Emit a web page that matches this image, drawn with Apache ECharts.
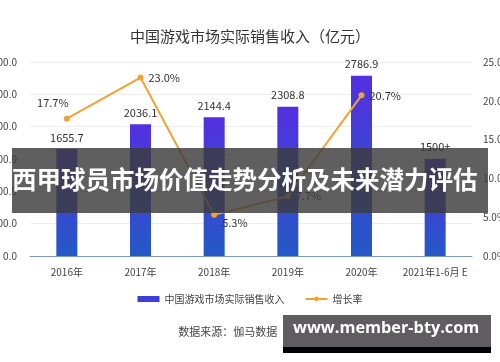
<!DOCTYPE html>
<html><head><meta charset="utf-8">
<script src="https://cdn.jsdelivr.net/npm/echarts@6/dist/echarts.min.js"></script>
<style>html,body{margin:0;padding:0;background:#fff}#c{width:500px;height:362px}</style>
</head><body><div id="c"></div>
<script>
const categories = ['2016年','2017年','2018年','2019年','2020年','2021年1-6月 E'];
const revenue = [1655.7, 2036.1, 2144.4, 2308.8, 2786.9, 1504.9];
const revenueLabels = ['1655.7','2036.1','2144.4','2308.8','2786.9','1500+'];
const growth = [17.7, 23.0, 5.3, 7.7, 20.7, null];
const growthLabelPos = ['top','right','right','right','right','right'];
const leftTicks = [0, 500, 1000, 1500, 2000, 2500, 3000];
const rightTicks = [0, 5, 10, 15, 20, 25];

const font = '"Noto Sans CJK SC", "Noto Sans", sans-serif';
const chart = echarts.init(document.getElementById('c'), null, {renderer:'canvas'});
chart.setOption({
  animation:false,
  backgroundColor:'#fff',
  textStyle:{fontFamily:font},
  title:{text:'中国游戏市场实际销售收入（亿元）',left:'center',top:24,
    textStyle:{fontSize:15,fontWeight:'normal',color:'#333',fontFamily:font}},
  grid:{left:30,right:28,top:62,bottom:106,containLabel:false,outerBoundsMode:'none'},
  legend:{top:289,left:'center',itemWidth:22,itemHeight:6,itemGap:20,
    textStyle:{fontSize:10,color:'#444',fontFamily:font},
    data:[{name:'中国游戏市场实际销售收入',icon:'rect',itemStyle:{color:'#3b3fd8'}},{name:'增长率'}]},
  xAxis:{type:'category',data:categories,
    axisLine:{lineStyle:{color:'#7f9ab5',width:1}},axisTick:{show:false},
    axisLabel:{fontSize:10,color:'#444',margin:11,fontFamily:font,interval:0}},
  yAxis:[
    {type:'value',min:leftTicks[0],max:leftTicks[leftTicks.length-1],interval:500,
      axisLabel:{fontSize:10,color:'#444',margin:13,formatter:v=>v.toFixed(1)},
      splitLine:{lineStyle:{color:'#eeeeee'}},axisLine:{show:false},axisTick:{show:false}},
    {type:'value',min:rightTicks[0],max:rightTicks[rightTicks.length-1],interval:5,
      axisLabel:{fontSize:10,color:'#444',margin:11,formatter:v=>v.toFixed(1)+'%'},
      splitLine:{show:false},axisLine:{show:false},axisTick:{show:false}}
  ],
  series:[
    {name:'中国游戏市场实际销售收入',type:'bar',barWidth:21,yAxisIndex:0,
      data:revenue.map((v,i)=>({value:v,label:{formatter:revenueLabels[i]}})),
      itemStyle:{color:new echarts.graphic.LinearGradient(0,0,0,1,[
        {offset:0,color:'#5330e0'},{offset:1,color:'#2459c6'}])},
      label:{show:true,position:'top',distance:6,fontSize:11,color:'#333',fontFamily:font}},
    {name:'增长率',type:'line',yAxisIndex:1,
      data:growth.map((v,i)=>({value:v,label:{position:growthLabelPos[i],
        offset: i===0?[-14,-2]:(i===2?[0,8]:[0,0])}})),
      symbol:'circle',symbolSize:6,
      lineStyle:{color:'#f0a232',width:2},itemStyle:{color:'#f0a232'},
      label:{show:true,fontSize:11,color:'#333',formatter:p=>p.value==null?'':p.value.toFixed(1)+'%',fontFamily:font}}
  ],
  graphic:[
    {type:'text',left:'center',top:326,z:10,
      style:{text:'数据来源：伽马数据（CNG）',fontSize:11,fill:'#444',fontFamily:font}},
    {type:'rect',left:12,top:148,z:100,shape:{width:476,height:65},
      style:{fill:'rgba(60,60,60,0.82)'}},
    {type:'text',left:12,top:167,z:101,
      style:{text:'西甲球员市场价值走势分析及未来潜力评估',fontSize:24.5,fontWeight:'bold',fill:'#fff',fontFamily:font}},
    {type:'rect',left:283,top:315,z:100,shape:{width:208,height:32},style:{fill:'#5f5d60'}},
    {type:'rect',left:283,top:347,z:100,shape:{width:208,height:6},style:{fill:'#000'}},
    {type:'text',left:293,top:320,z:101,
      style:{text:'www.member-bty.com',fontSize:16.3,fontWeight:'bold',fill:'#fff',fontFamily:'"Open Sans", "DejaVu Sans", sans-serif'}}
  ]
});
</script></body></html>
